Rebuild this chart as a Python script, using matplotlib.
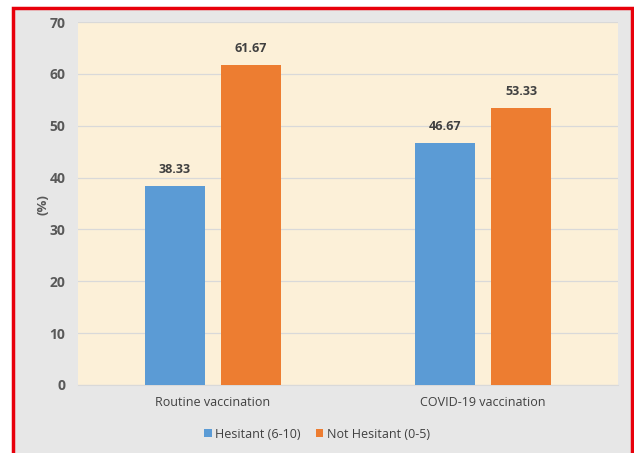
import matplotlib
matplotlib.use('Agg')
import matplotlib.pyplot as plt
from matplotlib.patches import Rectangle
import numpy as np

categories = ['Routine vaccination', 'COVID-19 vaccination']
hesitant = [38.33, 46.67]
not_hesitant = [61.67, 53.33]
series_names = ['Hesitant (6-10)', 'Not Hesitant (0-5)']
y_ticks = [0, 10, 20, 30, 40, 50, 60, 70]

BLUE = '#5b9bd5'
ORANGE = '#ed7d31'
TXT = '#595959'

plt.rcParams['font.family'] = ['Open Sans', 'DejaVu Sans']

W, H = 634, 453
fig = plt.figure(figsize=(W / 100, H / 100), dpi=100)
fig.patch.set_facecolor('white')

# gray chart frame with red outline
fig.patches.append(Rectangle((13 / W, -0.05), 619 / W, 1.05 - 8 / H,
                             transform=fig.transFigure, facecolor='#e7e7e7',
                             edgecolor='#e8000b', lw=2.5, zorder=-10))

ax = fig.add_axes([78 / W, 1 - 385 / H, 540 / W, 363 / H])
ax.set_facecolor('#fcf0d8')

x = np.arange(len(categories))
w = 0.222
off = 0.141
b1 = ax.bar(x - off, hesitant, w, color=BLUE, label=series_names[0], zorder=3)
b2 = ax.bar(x + off, not_hesitant, w, color=ORANGE, label=series_names[1], zorder=3)

for bars, vals in ((b1, hesitant), (b2, not_hesitant)):
    for r, v in zip(bars, vals):
        ax.text(r.get_x() + r.get_width() / 2, v + 2.0, f'{v:.2f}',
                ha='center', va='bottom', fontsize=9, fontweight='bold',
                color='#404040')

ax.set_xlim(-0.5, 1.5)
ax.set_ylim(0, 70)
ax.set_yticks(y_ticks)
ax.yaxis.grid(True, color='#d9d9d9', lw=0.9, zorder=0)
ax.set_axisbelow(True)
for s in ['top', 'right', 'left']:
    ax.spines[s].set_visible(False)
ax.spines['bottom'].set_color('#d9d9d9')
ax.tick_params(length=0)
ax.tick_params(axis='y', pad=9, labelsize=10, labelcolor=TXT)
ax.tick_params(axis='x', pad=8, labelsize=9, labelcolor='#404040')
for lbl in ax.get_yticklabels():
    lbl.set_fontweight('bold')
ax.set_xticks(x)
ax.set_xticklabels(categories)

fig.text(43 / W, 1 - 205 / H, '(%)', rotation=90, ha='center', va='center',
         fontsize=9.5, fontweight='bold', color=TXT)

fig.legend(handles=[b1, b2], loc='center', bbox_to_anchor=(0.5, 1 - 434 / H),
           ncol=2, frameon=False, fontsize=9, handlelength=0.6,
           handleheight=0.6, handletextpad=0.3, columnspacing=1.2,
           labelcolor='#404040')

fig.savefig('out.png', dpi=100)
